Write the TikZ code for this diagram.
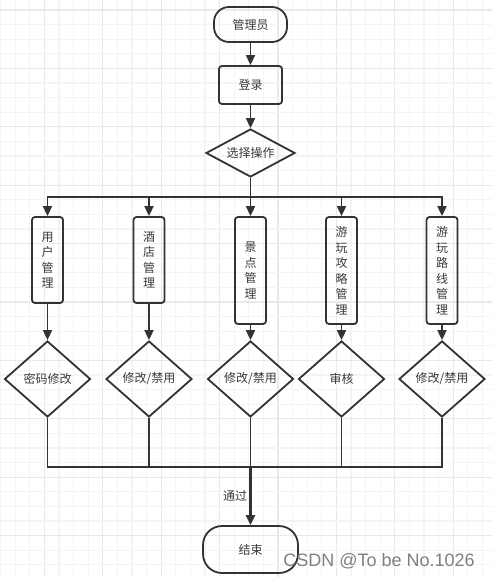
\documentclass[tikz,border=0pt]{standalone}
\usepackage{fontspec}
\newfontfamily\cjk{Noto Sans CJK SC}
\newfontfamily\wm{Liberation Sans}
\usetikzlibrary{shapes.geometric,arrows.meta}
\definecolor{ink}{HTML}{333333}
\definecolor{txt}{HTML}{3A3A3A}
\definecolor{gridminor}{HTML}{F4F4F4}
\definecolor{gridmajor}{HTML}{E9E9E9}
\tikzset{
  base/.style={draw=ink, line width=1.8pt, text=txt, font=\cjk\fontsize{12}{15.5}\selectfont, inner sep=0pt},
  term/.style={base, rectangle, rounded corners=#1},
  procbox/.style={base, rectangle, rounded corners=3pt, minimum width=73pt-10pt},
  vbox/.style={base, rectangle, rounded corners=3pt, minimum width=31pt, align=center},
  dec/.style={base, diamond, minimum width=86pt, minimum height=76pt, shape aspect=1.13},
  conn/.style={draw=ink, line width=1.8pt},
  arr/.style={conn, -{Triangle[length=10pt,width=9pt]}},
  thinconn/.style={draw=ink, line width=1.4pt},
}
\begin{document}
\begin{tikzpicture}[x=1pt,y=-1pt]
\useasboundingbox (0,0) rectangle (492,577);
\fill[white] (0,0) rectangle (492,577);
% grid
\foreach \i in {0,...,33} {
  \pgfmathsetmacro\gx{0.5+14.6*\i}
  \pgfmathtruncatemacro\m{mod(\i,4)}
  \ifnum\m=3 \draw[gridmajor, line width=1.2pt] (\gx,0) -- (\gx,577);
  \else \draw[gridminor, line width=1.2pt] (\gx,0) -- (\gx,577); \fi
}
\foreach \i in {0,...,40} {
  \pgfmathsetmacro\gy{-4.6+14.6*\i}
  \pgfmathtruncatemacro\m{mod(\i,4)}
  \ifnum\m=1 \draw[gridmajor, line width=1.2pt] (0,\gy) -- (492,\gy);
  \else \draw[gridminor, line width=1.2pt] (0,\gy) -- (492,\gy); \fi
}
% nodes
\node[term=15pt, minimum width=73pt, minimum height=35pt] (admin) at (250.5,24.5) {管理员};
\node[base, rectangle, rounded corners=3pt, minimum width=63pt, minimum height=38pt] (login) at (250.5,85) {登录};
\node[base, diamond, minimum width=89pt, minimum height=48pt, shape aspect=1.85] (choose) at (250.5,153) {选择操作};

\node[vbox, minimum height=86pt] (b1) at (47.5,260) {用\\户\\管\\理};
\node[vbox, minimum height=86pt] (b2) at (149,260) {酒\\店\\管\\理};
\node[vbox, minimum height=107pt] (b3) at (250.5,270.5) {景\\点\\管\\理};
\node[vbox, minimum height=107pt] (b4) at (341.5,270.5) {游\\玩\\攻\\略\\管\\理};
\node[vbox, minimum height=107pt] (b5) at (442,270.5) {游\\玩\\路\\线\\管\\理};

\node[dec] (d1) at (47.5,379) {密码修改};
\node[dec] (d2) at (149,379) {修改/禁用};
\node[dec] (d3) at (250.5,379) {修改/禁用};
\node[dec] (d4) at (341.5,379) {审核};
\node[dec] (d5) at (442,379) {修改/禁用};

\node[term=19pt, minimum width=95pt, minimum height=47pt] (end) at (250.5,549.5) {结束};

\coordinate (split) at (250.5,197);
\coordinate (join) at (250.5,467);

% connectors
\draw[arr] (admin) -- (login);
\draw[arr] (login) -- (choose);
\draw[conn] (choose.south) -- (split);
\foreach \b in {b1,b2,b3,b4,b5} {
  \draw[arr] (split) -| (\b.north);
  \draw[arr] (\b.south) -- (\b.south |- d1.north);
}
\foreach \d in {d1,d2,d3,d4,d5} {
  \draw[thinconn] (\d.south) |- (join);
}
\draw[draw=ink, line width=2.6pt, -{Triangle[length=10pt,width=9pt]}] (join) -- (end.north)
  node[pos=0.5, left=2pt, text=txt, font=\cjk\fontsize{12}{14}\selectfont, inner sep=0pt] (pass) {通过};

% watermark
\node[font=\wm\fontsize{18}{20}\selectfont, text=black!50, anchor=base, inner sep=0pt] (mark) at (379,566.5) {CSDN @To be No.1026};
\end{tikzpicture}
\end{document}
